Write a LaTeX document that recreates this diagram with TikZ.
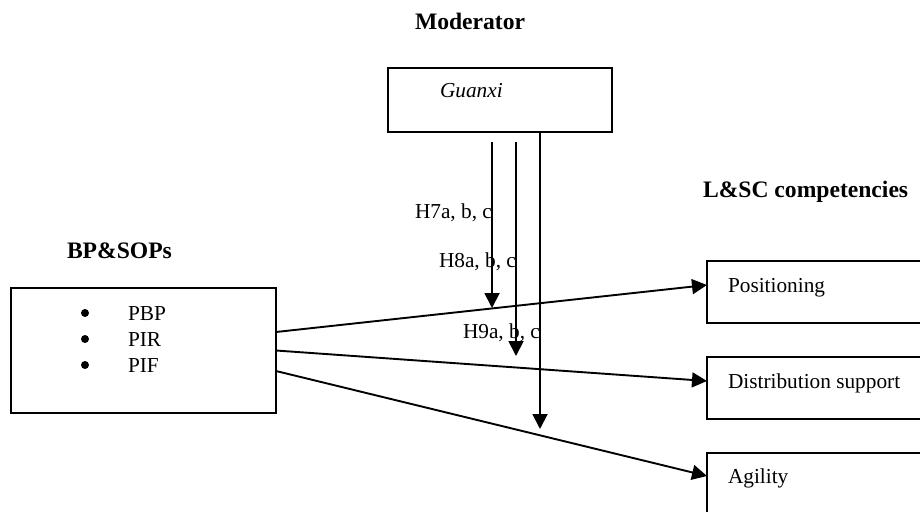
\documentclass[tikz,border=0pt]{standalone}
\usepackage{fontspec}
\setmainfont{Liberation Serif}
\usetikzlibrary{arrows.meta}

\begin{document}
\begin{tikzpicture}[x=1pt, y=-1pt,
  every node/.style={inner sep=0pt, outer sep=0pt},
  txt/.style={anchor=base west, font=\fontsize{21.3}{26}\selectfont},
  head/.style={anchor=base west, font=\fontsize{23.6}{28}\selectfont\bfseries},
  frame/.style={draw=black, line width=2.2pt, anchor=north west, rectangle},
  dot/.style={circle, fill=black, minimum size=8pt},
  link/.style={draw=black, line width=1.9pt, -{Triangle[length=15pt, width=15pt]}}
]
\useasboundingbox (0,0) rectangle (920,511);
\fill[white] (0,0) rectangle (920,511);
\clip (0,0) rectangle (920,511);

% headings
\node[head] (hmod) at (415,30) {Moderator};
\node[head] (hlsc) at (703,197) {L\&SC competencies};
\node[head] (hbp)  at (67,258) {BP\&SOPs};

% moderator box
\node[frame, minimum width=224pt, minimum height=64pt] (gx) at (388,68) {};
\node[txt, font=\fontsize{21.3}{26}\selectfont\itshape] (gxt) at (440,97) {Guanxi};

% practices box with its bullet list
\node[frame, minimum width=265pt, minimum height=125pt] (bp) at (11,288) {};
\foreach \lab/\yy/\yd in {PBP/320/313, PIR/346/339, PIF/372/365} {
  \node[dot] (b\lab) at (85,\yd) {};
  \node[txt] (t\lab) at (128,\yy) {\lab};
}

% competency boxes
\node[frame, minimum width=240pt, minimum height=62pt] (pos) at (707,261) {};
\node[txt] (post) at (728,292) {Positioning};
\node[frame, minimum width=240pt, minimum height=62pt] (dis) at (707,357) {};
\node[txt] (dist) at (728,388) {Distribution support};
\node[frame, minimum width=240pt, minimum height=62pt] (agi) at (707,453) {};
\node[txt] (agit) at (728,483) {Agility};

% hypothesis labels
\node[txt] (h7) at (415,218) {H7a, b, c};
\node[txt] (h8) at (439,267) {H8a, b, c};
\node[txt] (h9) at (463,338) {H9a, b, c};

% moderating arrows
\coordinate (m1s) at (492,142);
\coordinate (m1e) at (492,308);
\coordinate (m2s) at (516,142);
\coordinate (m2e) at (516,356);
\coordinate (m3e) at (540,429);
\draw[link] (m1s) -- (m1e);
\draw[link] (m2s) -- (m2e);
\draw[link] ([xshift=40pt]gx.south) -- (m3e);

% main effects
\draw[link] ([yshift=18.5pt]bp.east) -- ([yshift=7pt]pos.west);
\draw[link] (bp.east) -- ([yshift=7pt]dis.west);
\draw[link] ([yshift=-20.5pt]bp.east) -- ([yshift=8pt]agi.west);
\end{tikzpicture}
\end{document}
